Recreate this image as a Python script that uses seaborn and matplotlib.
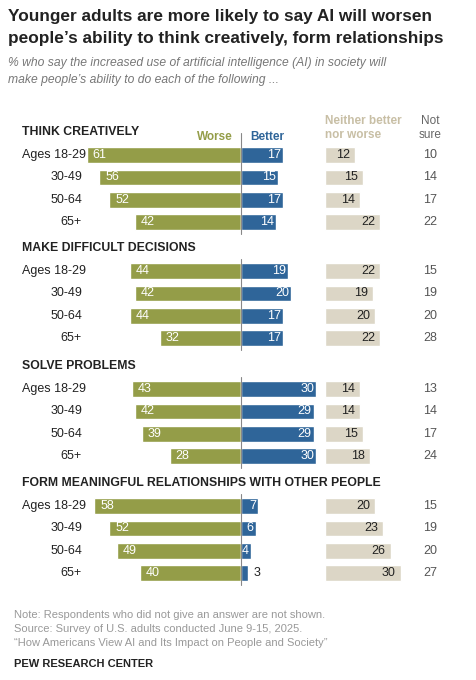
import matplotlib
matplotlib.use("Agg")
import matplotlib.pyplot as plt
import seaborn as sns

sns.set_theme(style="white")
plt.rcParams['font.family'] = ['Liberation Sans', 'DejaVu Sans']

sections = ["THINK CREATIVELY", "MAKE DIFFICULT DECISIONS", "SOLVE PROBLEMS",
            "FORM MEANINGFUL RELATIONSHIPS WITH OTHER PEOPLE"]
ages = ["Ages 18-29", "30-49", "50-64", "65+"]
worse = [[61, 56, 52, 42], [44, 42, 44, 32], [43, 42, 39, 28], [58, 52, 49, 40]]
better = [[17, 15, 17, 14], [19, 20, 17, 17], [30, 29, 29, 30], [7, 6, 4, 3]]
neither = [[12, 15, 14, 22], [22, 19, 20, 22], [14, 14, 15, 18], [20, 23, 26, 30]]
notsure = [[10, 14, 17, 22], [15, 19, 20, 28], [13, 14, 17, 24], [15, 19, 20, 27]]

GREEN, BLUE, BEIGE = "#949d48", "#2f6599", "#dcd6c6"
W, H = 476, 680
fig = plt.figure(figsize=(W/100, H/100), dpi=100)
ax = fig.add_axes([0, 0, 1, 1])
S = 2.52
X0 = 240.5
ax.set_xlim(-X0/S, (W-X0)/S)
ax.set_ylim(H, 0)
ax.axis("off")

def px(x):  # pixel x -> data
    return (x - X0)/S

NOFF = px(325)
fig.text(8/W, 1-16/H, "Younger adults are more likely to say AI will worsen", fontsize=12.4, weight="bold", va="center", color="#222")
fig.text(8/W, 1-39/H, "people’s ability to think creatively, form relationships", fontsize=12.4, weight="bold", va="center", color="#222")
fig.text(8/W, 1-63/H, "% who say the increased use of artificial intelligence (AI) in society will", fontsize=8.7, style="italic", color="#777", va="center")
fig.text(8/W, 1-80/H, "make people’s ability to do each of the following ...", fontsize=8.7, style="italic", color="#777", va="center")

ax.text(px(233), 137, "Worse", ha="right", va="center", fontsize=8.5, color=GREEN, weight="bold")
ax.text(px(250), 137, "Better", ha="left", va="center", fontsize=8.5, color=BLUE, weight="bold")
ax.text(NOFF, 128, "Neither better\nnor worse", ha="left", va="center", fontsize=8.5, color="#c8bfa5", linespacing=1.25, weight="bold")
ax.text(px(430), 128, "Not\nsure", ha="center", va="center", fontsize=8.5, color="#666", linespacing=1.25)

sec_y = [132, 248, 366, 483]
STEP = 22.4
FS = 9.0
for s, sy in enumerate(sec_y):
    ax.text(px(22), sy, sections[s], fontsize=8.8, weight="bold", va="center", color="#222")
    ys = [sy + 23 + i*STEP for i in range(4)]
    ax.plot([0, 0], [ys[0] - 22 if s == 0 else ys[0] - 12, ys[-1] + 12], color="#888", lw=0.8, zorder=3)
    for i, y in enumerate(ys):
        ax.text(px(22) if i == 0 else px(82), y, ages[i], ha="left" if i == 0 else "right", va="center", fontsize=FS, color="#222")
        w, b, n, u = worse[s][i], better[s][i], neither[s][i], notsure[s][i]
        ax.barh(y, -w, height=15.5, color=GREEN, left=0)
        ax.barh(y, b, height=15.5, color=BLUE, left=0)
        ax.barh(y, n, height=15.5, color=BEIGE, left=NOFF)
        ax.text(-w + 2.3, y, str(w), ha="left", va="center", color="white", fontsize=FS)
        if b >= 4:
            ax.text(b - 0.8, y, str(b), ha="right", va="center", color="white", fontsize=FS, zorder=4)
        else:
            ax.text(b + 2, y, str(b), ha="left", va="center", color="#222", fontsize=FS)
        ax.text(NOFF + n - 2, y, str(n), ha="right", va="center", color="#222", fontsize=FS)
        ax.text(px(430), y, str(u), ha="center", va="center", color="#555", fontsize=FS)

ax.text(px(14), 615, "Note: Respondents who did not give an answer are not shown.", fontsize=8, color="#999", va="center")
ax.text(px(14), 629, "Source: Survey of U.S. adults conducted June 9-15, 2025.", fontsize=8, color="#999", va="center")
ax.text(px(14), 643, "“How Americans View AI and Its Impact on People and Society”", fontsize=8, color="#999", va="center")
ax.text(px(14), 664, "PEW RESEARCH CENTER", fontsize=8, weight="bold", color="#222", va="center")

fig.savefig("out.png", dpi=100)
